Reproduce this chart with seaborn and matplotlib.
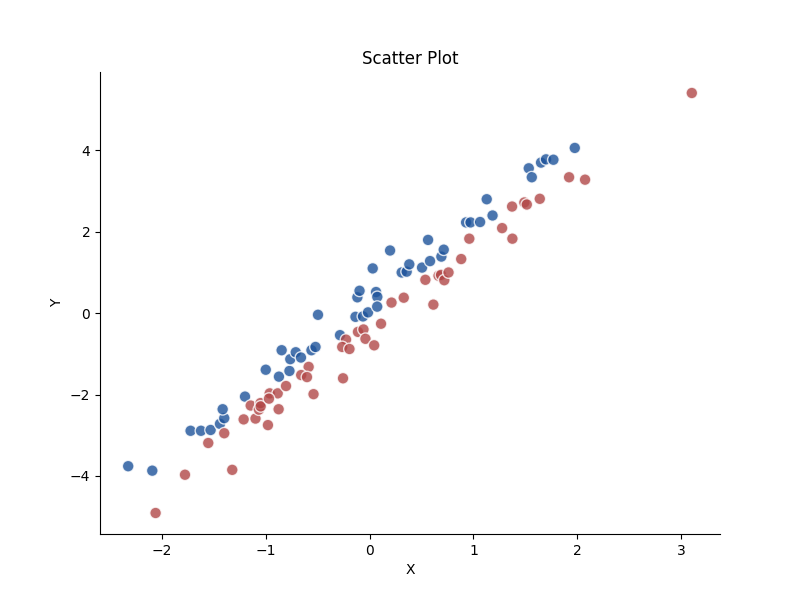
import matplotlib
matplotlib.use("Agg")
import matplotlib.pyplot as plt
import seaborn as sns
import pandas as pd

blue_x = [-2.325, -2.093, -1.724, -1.624, -1.531, -1.441, -1.400, -1.415, -1.200, -1.000,
          -0.873, -0.847, -0.772, -0.764, -0.711, -0.661, -0.560, -0.521, -0.497, -0.285,
          -0.136, -0.064, -0.118, -0.097, -0.015, 0.030, 0.062, 0.074, 0.073, 0.197,
          0.309, 0.357, 0.382, 0.505, 0.563, 0.582, 0.691, 0.714, 0.929, 0.972,
          1.064, 1.128, 1.184, 1.533, 1.562, 1.651, 1.699, 1.770, 1.976]
blue_y = [-3.76, -3.87, -2.89, -2.89, -2.87, -2.72, -2.58, -2.36, -2.05, -1.39,
          -1.56, -0.91, -1.42, -1.13, -0.96, -1.09, -0.91, -0.83, -0.04, -0.54,
          -0.09, -0.08, 0.39, 0.55, 0.02, 1.10, 0.52, 0.40, 0.16, 1.54,
          1.00, 1.02, 1.20, 1.12, 1.80, 1.28, 1.39, 1.56, 2.23, 2.23,
          2.24, 2.80, 2.40, 3.56, 3.34, 3.70, 3.78, 3.77, 4.06]

red_x = [-2.061, -1.778, -1.323, -1.554, -1.400, -1.213, -1.099, -0.979, -1.145, -1.066,
         -1.051, -1.049, -0.876, -0.962, -0.885, -0.969, -0.805, -0.587, -0.659, -0.603,
         -0.540, -0.256, -0.227, -0.264, -0.194, -0.112, -0.059, -0.040, 0.044, 0.110,
         0.211, 0.329, 0.537, 0.614, 0.664, 0.688, 0.719, 0.760, 0.882, 0.960,
         1.276, 1.372, 1.375, 1.490, 1.514, 1.639, 1.921, 2.075, 3.103]
red_y = [-4.91, -3.97, -3.85, -3.19, -2.95, -2.61, -2.59, -2.75, -2.27, -2.37,
         -2.21, -2.29, -2.36, -1.97, -1.97, -2.10, -1.79, -1.32, -1.52, -1.57,
         -1.99, -1.60, -0.65, -0.83, -0.88, -0.46, -0.40, -0.63, -0.79, -0.26,
         0.26, 0.38, 0.82, 0.21, 0.92, 0.94, 0.81, 1.00, 1.33, 1.83,
         2.09, 2.62, 1.83, 2.72, 2.67, 2.81, 3.34, 3.28, 5.41]

df = pd.DataFrame({
    "X": blue_x + red_x,
    "Y": blue_y + red_y,
    "group": ["A"] * len(blue_x) + ["B"] * len(red_x),
})

fig, ax = plt.subplots(figsize=(8, 6), dpi=100)
sns.scatterplot(data=df, x="X", y="Y", hue="group",
                palette={"A": "#1d539a", "B": "#b14747"},
                s=70, alpha=0.8, edgecolor="white", linewidth=1,
                legend=False, ax=ax)
ax.set_title("Scatter Plot")
ax.set_xlabel("X")
ax.set_ylabel("Y")
sns.despine(ax=ax)
fig.savefig("out.png", dpi=100)
